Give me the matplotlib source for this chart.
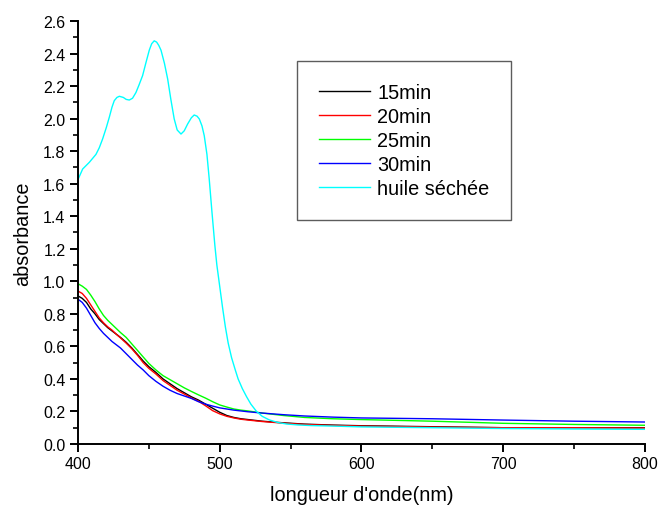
import matplotlib.pyplot as plt
from matplotlib.ticker import MultipleLocator

plt.rcParams['font.family'] = ['Liberation Sans', 'DejaVu Sans']

# UV-vis absorbance spectra at several drying times
wl = [400, 403, 406, 409, 412, 415, 418, 421, 424, 427, 430, 434, 438, 442,
      446, 450, 455, 460, 465, 470, 475, 480, 485, 490, 495, 500, 505, 510,
      515, 520, 530, 545, 560, 580, 600, 650, 700, 750, 800]
abs_15 = [0.91, 0.895, 0.87, 0.83, 0.80, 0.765, 0.74, 0.715, 0.695, 0.675,
          0.655, 0.625, 0.59, 0.55, 0.51, 0.475, 0.44, 0.40, 0.37, 0.34,
          0.315, 0.29, 0.27, 0.245, 0.22, 0.195, 0.175, 0.163, 0.155, 0.15,
          0.14, 0.13, 0.122, 0.116, 0.112, 0.106, 0.10, 0.10, 0.10]
abs_20 = [0.94, 0.925, 0.895, 0.855, 0.815, 0.775, 0.745, 0.72, 0.70, 0.675,
          0.652, 0.62, 0.585, 0.545, 0.50, 0.465, 0.43, 0.39, 0.36, 0.33,
          0.307, 0.283, 0.263, 0.235, 0.205, 0.185, 0.17, 0.16, 0.152, 0.147,
          0.138, 0.128, 0.12, 0.114, 0.11, 0.104, 0.10, 0.10, 0.098]
abs_25 = [0.985, 0.97, 0.95, 0.915, 0.875, 0.83, 0.79, 0.76, 0.735, 0.71,
          0.685, 0.655, 0.615, 0.575, 0.535, 0.495, 0.455, 0.42, 0.395, 0.37,
          0.345, 0.323, 0.302, 0.282, 0.26, 0.24, 0.227, 0.215, 0.208, 0.203,
          0.19, 0.175, 0.163, 0.155, 0.15, 0.14, 0.127, 0.12, 0.115]
abs_30 = [0.89, 0.87, 0.835, 0.79, 0.745, 0.71, 0.68, 0.655, 0.63, 0.61,
          0.59, 0.555, 0.52, 0.485, 0.455, 0.42, 0.385, 0.355, 0.33, 0.31,
          0.295, 0.28, 0.26, 0.245, 0.233, 0.222, 0.215, 0.208, 0.203, 0.198,
          0.19, 0.18, 0.172, 0.165, 0.16, 0.155, 0.147, 0.14, 0.135]

# dried oil reference spectrum
wl_oil = [400, 403.3, 408, 412.7, 415, 417.4, 420, 422.1, 424, 425.6, 427.5,
          429.2, 432, 434, 436.2, 438.5, 440.9, 443, 445.6, 448, 450.3, 452,
          453.8, 455.5, 457, 458.6, 461, 463.3, 465.5, 467.9, 470, 472.7, 475,
          477.4, 480, 482, 484, 485.6, 487.5, 489.1, 491, 492.6, 494.5, 496.6,
          498, 500, 502, 504, 506, 508.4, 511, 513, 516, 519, 522, 526, 530,
          535, 541, 547, 555, 565, 580, 600, 650, 700, 750, 800]
abs_oil = [1.625, 1.69, 1.731, 1.78, 1.82, 1.875, 1.945, 2.008, 2.07, 2.11,
           2.13, 2.137, 2.13, 2.118, 2.114, 2.125, 2.16, 2.205, 2.264, 2.345,
           2.42, 2.46, 2.478, 2.47, 2.45, 2.42, 2.34, 2.243, 2.12, 1.998,
           1.93, 1.905, 1.925, 1.967, 2.005, 2.022, 2.015, 1.998, 1.955, 1.895,
           1.78, 1.63, 1.43, 1.22, 1.10, 0.97, 0.84, 0.72, 0.62, 0.53, 0.455,
           0.40, 0.34, 0.29, 0.245, 0.20, 0.17, 0.148, 0.132, 0.123, 0.117,
           0.113, 0.11, 0.105, 0.10, 0.095, 0.092, 0.09]

fig = plt.figure(figsize=(6.58, 5.06), dpi=100)
ax = fig.add_axes([0.1185, 0.1206, 0.8615, 0.836])

ax.plot(wl, abs_15, color='black', lw=1.0, label='15min')
ax.plot(wl, abs_20, color='#ff0000', lw=1.0, label='20min')
ax.plot(wl, abs_25, color='#00ff00', lw=1.0, label='25min')
ax.plot(wl, abs_30, color='#0000ff', lw=1.0, label='30min')
ax.plot(wl_oil, abs_oil, color='#00ffff', lw=1.0, label='huile séchée')

ax.set_xlim(400, 800)
ax.set_ylim(0, 2.6)
ax.xaxis.set_major_locator(MultipleLocator(100))
ax.xaxis.set_minor_locator(MultipleLocator(50))
ax.yaxis.set_major_locator(MultipleLocator(0.2))
ax.yaxis.set_minor_locator(MultipleLocator(0.1))
ax.yaxis.set_major_formatter(plt.FormatStrFormatter('%.1f'))

for side in ('top', 'right'):
    ax.spines[side].set_visible(False)
for side in ('left', 'bottom'):
    ax.spines[side].set_linewidth(1.4)
ax.tick_params(which='major', direction='out', length=6, width=1.4,
               labelsize=11.5, pad=3)
ax.tick_params(which='minor', direction='out', length=3.5, width=1.2)

ax.set_xlabel("longueur d'onde(nm)", fontsize=14.3, labelpad=10)
ax.set_ylabel('absorbance', fontsize=14.3, labelpad=8)

leg = ax.legend(loc='upper left', bbox_to_anchor=(0.386, 0.905), fontsize=14.3,
                frameon=True, fancybox=False, handlelength=2.6,
                handletextpad=0.35, labelspacing=0.25, borderpad=1.1,
                borderaxespad=0)
leg.get_frame().set_edgecolor('#333333')
leg.get_frame().set_linewidth(1.0)

fig.savefig('out.png', dpi=100)
